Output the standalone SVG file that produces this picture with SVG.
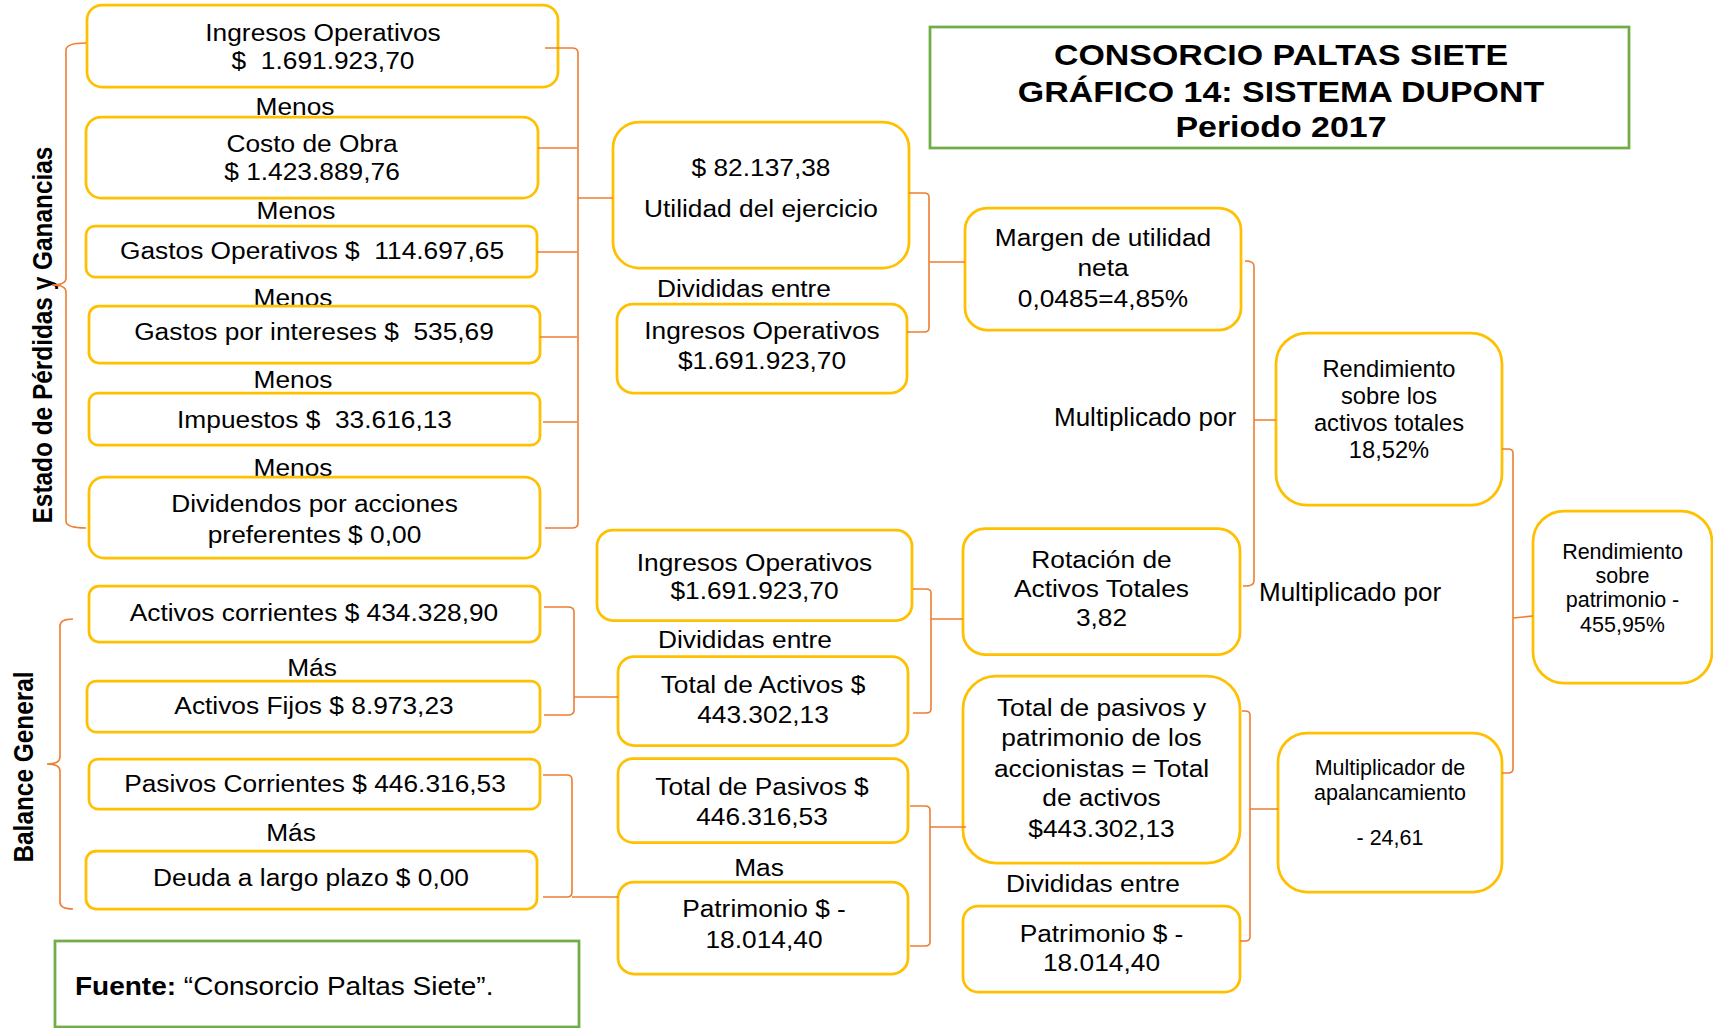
<svg xmlns="http://www.w3.org/2000/svg" width="1713" height="1028" viewBox="0 0 1713 1028">
<style>
.bx{fill:#fff;stroke:#FFC000;stroke-width:2.75}
.gr{fill:#fff;stroke:#70AD47;stroke-width:2.75}
.cn{fill:none;stroke:#ED7D31;stroke-width:1.6}
text{font-family:"Liberation Sans",Arial,sans-serif;fill:#000}
.t{font-size:23.5px;text-anchor:middle}
.r{font-size:23.7px;text-anchor:middle}
.s{font-size:21.5px;text-anchor:middle}
.m{font-size:26px}
.ti{font-size:30.3px;font-weight:bold;text-anchor:middle}
.v{font-size:24.4px;font-weight:bold;text-anchor:middle}
.f{font-size:25px}
</style>
<rect width="1713" height="1028" fill="#fff"/>

<g id="labels">
<text class="t" transform="matrix(1.12 0 0 1 295 0)"><tspan x="0" y="115">Menos</tspan></text>
<text class="t" transform="matrix(1.12 0 0 1 296 0)"><tspan x="0" y="219">Menos</tspan></text>
<text class="t" transform="matrix(1.12 0 0 1 293 0)"><tspan x="0" y="306">Menos</tspan></text>
<text class="t" transform="matrix(1.12 0 0 1 293 0)"><tspan x="0" y="388">Menos</tspan></text>
<text class="t" transform="matrix(1.12 0 0 1 293 0)"><tspan x="0" y="476">Menos</tspan></text>
<text class="t" transform="matrix(1.12 0 0 1 312 0)"><tspan x="0" y="676">Más</tspan></text>
<text class="t" transform="matrix(1.12 0 0 1 291 0)"><tspan x="0" y="841">Más</tspan></text>
<text class="t" transform="matrix(1.12 0 0 1 744 0)"><tspan x="0" y="297">Divididas entre</tspan></text>
<text class="t" transform="matrix(1.12 0 0 1 745 0)"><tspan x="0" y="648.5">Divididas entre</tspan></text>
<text class="t" transform="matrix(1.12 0 0 1 759 0)"><tspan x="0" y="876">Mas</tspan></text>
<text class="t" transform="matrix(1.12 0 0 1 1093 0)"><tspan x="0" y="892">Divididas entre</tspan></text>
<text class="m" x="1054" y="426">Multiplicado por</text>
<text class="m" x="1259" y="601">Multiplicado por</text>
<text class="v" transform="translate(51.7 335) rotate(-90) scale(1 1.12)" x="0" y="0">Estado de Pérdidas y Ganancias</text>
<text class="v" transform="translate(32.5 767) rotate(-90) scale(1 1.12)" x="0" y="0">Balance General</text>
</g>

<g id="title">
<rect class="gr" x="930" y="27" width="699" height="121"/>
<text class="ti" transform="matrix(1.12 0 0 1 1281 0)"><tspan x="0" y="65">CONSORCIO PALTAS SIETE</tspan><tspan x="0" y="102">GRÁFICO 14: SISTEMA DUPONT</tspan><tspan x="0" y="137">Periodo 2017</tspan></text>
</g>

<g id="fuente">
<rect class="gr" x="55" y="941" width="524" height="86"/>
<text class="f" transform="matrix(1.12 0 0 1 75 0)"><tspan x="0" y="995"><tspan font-weight="bold">Fuente:</tspan> “Consorcio Paltas Siete”.</tspan></text>
</g>

<g id="ingresos1">
<rect class="bx" x="87" y="5" width="471" height="82" rx="15"/>
<text class="t" transform="matrix(1.12 0 0 1 323 0)"><tspan x="0" y="41">Ingresos Operativos</tspan><tspan x="0" y="69">$&#160;&#160;1.691.923,70</tspan></text>
</g>
<g id="costo">
<rect class="bx" x="86" y="117" width="452" height="81" rx="15"/>
<text class="t" transform="matrix(1.12 0 0 1 312 0)"><tspan x="0" y="152">Costo de Obra</tspan><tspan x="0" y="180">$ 1.423.889,76</tspan></text>
</g>
<g id="gastosop">
<rect class="bx" x="86" y="226" width="451" height="51" rx="9"/>
<text class="t" transform="matrix(1.12 0 0 1 312 0)"><tspan x="0" y="259">Gastos Operativos $&#160;&#160;114.697,65</tspan></text>
</g>
<g id="intereses">
<rect class="bx" x="89" y="306" width="451" height="57" rx="10"/>
<text class="t" transform="matrix(1.12 0 0 1 314 0)"><tspan x="0" y="340">Gastos por intereses $&#160;&#160;535,69</tspan></text>
</g>
<g id="impuestos">
<rect class="bx" x="89" y="393" width="451" height="52" rx="9"/>
<text class="t" transform="matrix(1.12 0 0 1 314.5 0)"><tspan x="0" y="428">Impuestos $&#160;&#160;33.616,13</tspan></text>
</g>
<g id="dividendos">
<rect class="bx" x="89" y="477" width="451" height="81" rx="15"/>
<text class="t" transform="matrix(1.12 0 0 1 314.5 0)"><tspan x="0" y="512">Dividendos por acciones</tspan><tspan x="0" y="543">preferentes $ 0,00</tspan></text>
</g>

<g id="actcorr">
<rect class="bx" x="89" y="586" width="451" height="56" rx="10"/>
<text class="t" transform="matrix(1.12 0 0 1 314 0)"><tspan x="0" y="621">Activos corrientes $ 434.328,90</tspan></text>
</g>
<g id="actfijos">
<rect class="bx" x="87" y="681" width="453" height="51" rx="9"/>
<text class="t" transform="matrix(1.12 0 0 1 314 0)"><tspan x="0" y="714">Activos Fijos $ 8.973,23</tspan></text>
</g>
<g id="pascorr">
<rect class="bx" x="89" y="759" width="451" height="50" rx="9"/>
<text class="t" transform="matrix(1.12 0 0 1 315 0)"><tspan x="0" y="792">Pasivos Corrientes $ 446.316,53</tspan></text>
</g>
<g id="deuda">
<rect class="bx" x="86" y="851" width="451" height="58" rx="10"/>
<text class="t" transform="matrix(1.12 0 0 1 311 0)"><tspan x="0" y="886">Deuda a largo plazo $ 0,00</tspan></text>
</g>

<g id="utilidad">
<rect class="bx" x="613" y="122" width="296" height="146" rx="26"/>
<text class="t" transform="matrix(1.12 0 0 1 761 0)"><tspan x="0" y="176">$ 82.137,38</tspan><tspan x="0" y="217">Utilidad del ejercicio</tspan></text>
</g>
<g id="ingresos2">
<rect class="bx" x="617" y="304" width="290" height="89" rx="16"/>
<text class="t" transform="matrix(1.12 0 0 1 762 0)"><tspan x="0" y="339">Ingresos Operativos</tspan><tspan x="0" y="369">$1.691.923,70</tspan></text>
</g>
<g id="ingresos3">
<rect class="bx" x="597" y="530" width="315" height="90.5" rx="16"/>
<text class="t" transform="matrix(1.12 0 0 1 754.5 0)"><tspan x="0" y="571">Ingresos Operativos</tspan><tspan x="0" y="599">$1.691.923,70</tspan></text>
</g>
<g id="totactivos">
<rect class="bx" x="618" y="656.5" width="290" height="89" rx="16"/>
<text class="t" transform="matrix(1.12 0 0 1 763 0)"><tspan x="0" y="693">Total de Activos $</tspan><tspan x="0" y="723">443.302,13</tspan></text>
</g>
<g id="totpasivos">
<rect class="bx" x="618" y="758.5" width="290" height="84" rx="15"/>
<text class="t" transform="matrix(1.12 0 0 1 762 0)"><tspan x="0" y="795">Total de Pasivos $</tspan><tspan x="0" y="825">446.316,53</tspan></text>
</g>
<g id="patrimonio1">
<rect class="bx" x="618" y="882" width="290" height="92" rx="16"/>
<text class="t" transform="matrix(1.12 0 0 1 764 0)"><tspan x="0" y="917">Patrimonio $ -</tspan><tspan x="0" y="948.5">18.014,40</tspan></text>
</g>

<g id="margen">
<rect class="bx" x="965" y="208" width="276" height="122" rx="22"/>
<text class="t" transform="matrix(1.12 0 0 1 1103 0)"><tspan x="0" y="246">Margen de utilidad</tspan><tspan x="0" y="276">neta</tspan><tspan x="0" y="307">0,0485=4,85%</tspan></text>
</g>
<g id="rotacion">
<rect class="bx" x="963" y="528.5" width="277" height="126" rx="22"/>
<text class="t" transform="matrix(1.12 0 0 1 1101.5 0)"><tspan x="0" y="568">Rotación de</tspan><tspan x="0" y="597">Activos Totales</tspan><tspan x="0" y="626">3,82</tspan></text>
</g>
<g id="totpaspat">
<rect class="bx" x="963" y="676" width="277" height="187" rx="33"/>
<text class="t" transform="matrix(1.12 0 0 1 1101.5 0)"><tspan x="0" y="716">Total de pasivos y</tspan><tspan x="0" y="746.5">patrimonio de los</tspan><tspan x="0" y="777">accionistas = Total</tspan><tspan x="0" y="806">de activos</tspan><tspan x="0" y="836.5">$443.302,13</tspan></text>
</g>
<g id="patrimonio2">
<rect class="bx" x="963" y="906" width="277" height="86" rx="15"/>
<text class="t" transform="matrix(1.12 0 0 1 1101.5 0)"><tspan x="0" y="942.5">Patrimonio $ -</tspan><tspan x="0" y="971.5">18.014,40</tspan></text>
</g>

<g id="rendactivos">
<rect class="bx" x="1276" y="333" width="226" height="172" rx="31"/>
<text class="r"><tspan x="1389" y="377">Rendimiento</tspan><tspan x="1389" y="404">sobre los</tspan><tspan x="1389" y="431">activos totales</tspan><tspan x="1389" y="458">18,52%</tspan></text>
</g>
<g id="multiplicador">
<rect class="bx" x="1278" y="733" width="224" height="159" rx="29"/>
<text class="s"><tspan x="1390" y="775">Multiplicador de</tspan><tspan x="1390" y="800">apalancamiento</tspan><tspan x="1390" y="845">- 24,61</tspan></text>
</g>
<g id="rendpatrimonio">
<rect class="bx" x="1533" y="511" width="179" height="172" rx="31"/>
<text class="s"><tspan x="1622.5" y="559">Rendimiento</tspan><tspan x="1622.5" y="583">sobre</tspan><tspan x="1622.5" y="607">patrimonio -</tspan><tspan x="1622.5" y="632">455,95%</tspan></text>
</g>

<g id="connectors">
<path class="cn" d="M86,43 Q66,43 66,50 L66,278 Q66,285 52,285 Q66,285 66,292 L66,521 Q66,528 86,528"/>
<path class="cn" d="M545,48 L572,48 Q578,48 578,53 L578,523 Q578,528 572,528 L545,528 M578,198 L613,198 M538,148 L577,148 M537,252 L577,252 M540,337 L577,337 M543,422 L577,422"/>
<path class="cn" d="M73,619 Q60,619 60,626 L60,757 Q60,764 47,764 Q60,764 60,771 L60,902 Q60,909 73,909"/>
<path class="cn" d="M544,607 L568,607 Q574,607 574,612 L574,710 Q574,715 568,715 L544,715 M574,697 L618,697"/>
<path class="cn" d="M543,775 L567,775 Q572,775 572,780 L572,892 Q572,897 567,897 L543,897 M572,897 L618,897"/>
<path class="cn" d="M909,193 L924,193 Q929,193 929,197 L929,328 Q929,332 924,332 L907,332 M929,262 L965,262"/>
<path class="cn" d="M913,589 L926,589 Q931,589 931,593 L931,709 Q931,713 926,713 L913,713 M931,619 L963,619"/>
<path class="cn" d="M910,806 L925,806 Q930,806 930,810 L930,942 Q930,946 925,946 L910,946 M930,827 L966,827"/>
<path class="cn" d="M1245,261 Q1254,261 1254,266 L1254,581 Q1254,586 1245,586 L1243,586 M1254,420 L1276,420"/>
<path class="cn" d="M1242,711 L1245,711 Q1250,711 1250,715 L1250,937 Q1250,941 1245,941 L1240,941 M1250,809 L1278,809"/>
<path class="cn" d="M1502,449 L1508,449 Q1513,449 1513,453 L1513,769 Q1513,773 1508,773 L1502,773 M1513,618 L1533,616"/>
</g>
</svg>
